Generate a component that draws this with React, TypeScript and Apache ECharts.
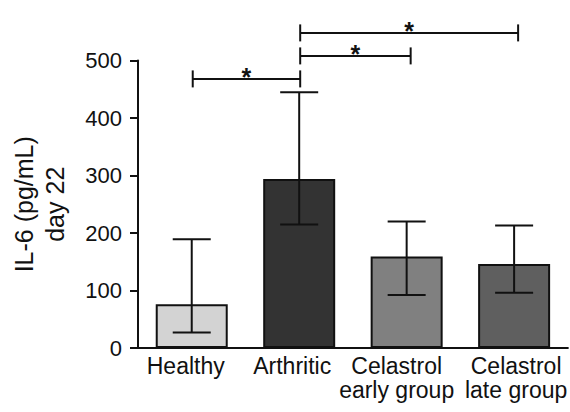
import React, { useEffect, useRef } from "react";
import * as echarts from "echarts";

const categories = ["Healthy", "Arthritic", "Celastrol\nearly group", "Celastrol\nlate group"];
const labelShift = [-6, -7, -10, 2];
const means = [76, 294, 159, 146];
const errLow = [27, 215, 92, 96];
const errHigh = [189, 445, 220, 213];
const barColors = ["#d3d3d3", "#333333", "#808080", "#5f5f5f"];
const yTicks = [0, 100, 200, 300, 400, 500];
const sigFrom = [0, 1, 1];
const sigTo = [1, 2, 3];
const sigLevel = [468, 508, 548];
const sigText = ["*", "*", "*"];

const FONT = "Liberation Sans, Arial, sans-serif";

export default function App() {
  const ref = useRef<HTMLDivElement>(null);
  useEffect(() => {
    if (!ref.current) return;
    const chart = echarts.init(ref.current, undefined, { renderer: "svg" });
    const option: any = {
      animation: false,
      grid: { left: 137, right: 1, top: 60.5, bottom: 64 },
      xAxis: {
        type: "category",
        data: categories.map((c, i) => ({
          value: c,
          textStyle: {
            padding: labelShift[i] < 0 ? [0, -2 * labelShift[i], 0, 0] : [0, 0, 0, 2 * labelShift[i]],
          },
        })),
        axisLine: { lineStyle: { color: "#111", width: 2 } },
        axisTick: { alignWithLabel: true, length: 8, lineStyle: { color: "#111", width: 2 } },
        axisLabel: {
          color: "#111",
          fontFamily: FONT,
          fontSize: 23,
          lineHeight: 24,
          margin: 6,
          interval: 0,
        },
      },
      yAxis: {
        type: "value",
        min: 0,
        max: yTicks[yTicks.length - 1],
        interval: yTicks[1] - yTicks[0],
        name: "IL-6 (pg/mL)\nday 22",
        nameLocation: "middle",
        nameGap: 68,
        nameTextStyle: { color: "#111", fontFamily: FONT, fontSize: 25, lineHeight: 31 },
        splitLine: { show: false },
        axisLine: { show: true, lineStyle: { color: "#111", width: 2 } },
        axisTick: { show: true, length: 8, lineStyle: { color: "#111", width: 2 } },
        axisLabel: { color: "#111", fontFamily: FONT, fontSize: 22, margin: 16 },
      },
      series: [
        {
          type: "bar",
          barWidth: 72,
          data: means.map((v, i) => ({
            value: v,
            itemStyle: { color: barColors[i], borderColor: "#111", borderWidth: 2 },
          })),
        },
        {
          type: "custom",
          data: categories.map((_, i) => [i, errLow[i], errHigh[i]]),
          renderItem: (params: any, api: any) => {
            const i = api.value(0);
            const lo = api.coord([i, api.value(1)]);
            const hi = api.coord([i, api.value(2)]);
            const hw = 19;
            const style = { stroke: "#111", lineWidth: 2 };
            return {
              type: "group",
              children: [
                { type: "line", shape: { x1: lo[0], y1: lo[1], x2: hi[0], y2: hi[1] }, style },
                { type: "line", shape: { x1: lo[0] - hw, y1: lo[1], x2: lo[0] + hw, y2: lo[1] }, style },
                { type: "line", shape: { x1: hi[0] - hw, y1: hi[1], x2: hi[0] + hw, y2: hi[1] }, style },
              ],
            };
          },
          z: 5,
        },
        {
          type: "custom",
          clip: false,
          data: sigFrom.map((f, k) => [f, sigTo[k], sigLevel[k]]),
          renderItem: (params: any, api: any) => {
            const k = params.dataIndex;
            const a = api.coord([api.value(0), api.value(2)]);
            const b = api.coord([api.value(1), api.value(2)]);
            const x1 = a[0] + 1;
            const x2 = b[0] + (k === 0 ? 1 : 4);
            const y = a[1];
            const h = 8.5;
            const style = { stroke: "#111", lineWidth: 2 };
            return {
              type: "group",
              children: [
                { type: "line", shape: { x1, y1: y, x2, y2: y }, style },
                { type: "line", shape: { x1, y1: y - h, x2: x1, y2: y + h }, style },
                { type: "line", shape: { x1: x2, y1: y - h, x2, y2: y + h }, style },
                {
                  type: "text",
                  style: {
                    text: sigText[k],
                    x: (x1 + x2) / 2,
                    y: y - 2,
                    align: "center",
                    verticalAlign: "middle",
                    fontSize: 25,
                    fontWeight: "bold",
                    fontFamily: FONT,
                    fill: "#111",
                  },
                },
              ],
            };
          },
          z: 6,
        },
      ],
    };
    chart.setOption(option);
    return () => chart.dispose();
  }, []);
  return <div ref={ref} style={{ width: 570, height: 412, position: "absolute", left: 0, top: 0 }} />;
}
